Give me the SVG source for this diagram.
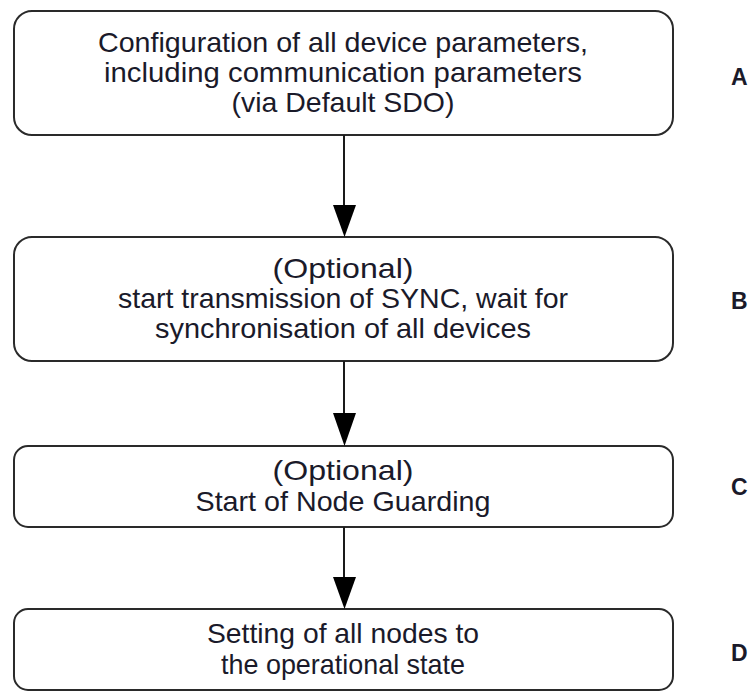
<svg xmlns="http://www.w3.org/2000/svg" width="754" height="696" viewBox="0 0 754 696">
<style>
.box{fill:#fff;stroke:#2a2a2a;stroke-width:2}
.t{font-family:"Liberation Sans",Arial,sans-serif;font-size:28px;fill:#1a1a2a;text-anchor:middle}
.lbl{font-family:"Liberation Sans",Arial,sans-serif;font-size:23px;font-weight:bold;fill:#1a1a2a}
.edge{stroke:#1a1a1a;stroke-width:2;fill:none}
</style>
<rect width="754" height="696" fill="#fff"/>
<g id="nodeA">
<rect class="box" x="14" y="11" width="659" height="124" rx="18"/>
<text class="t" x="343" y="52" textLength="490" lengthAdjust="spacingAndGlyphs">Configuration of all device parameters,</text>
<text class="t" x="343" y="82" textLength="478" lengthAdjust="spacingAndGlyphs">including communication parameters</text>
<text class="t" x="343" y="112" textLength="223" lengthAdjust="spacingAndGlyphs">(via Default SDO)</text>
</g>
<g id="nodeB">
<rect class="box" x="14" y="237" width="659" height="124" rx="18"/>
<text class="t" x="343" y="278" textLength="141" lengthAdjust="spacingAndGlyphs">(Optional)</text>
<text class="t" x="343" y="308" textLength="450" lengthAdjust="spacingAndGlyphs">start transmission of SYNC, wait for</text>
<text class="t" x="343" y="338" textLength="376" lengthAdjust="spacingAndGlyphs">synchronisation of all devices</text>
</g>
<g id="nodeC">
<rect class="box" x="14" y="446" width="659" height="81" rx="14"/>
<text class="t" x="343" y="480" textLength="141" lengthAdjust="spacingAndGlyphs">(Optional)</text>
<text class="t" x="343" y="511" textLength="295" lengthAdjust="spacingAndGlyphs">Start of Node Guarding</text>
</g>
<g id="nodeD">
<rect class="box" x="14" y="609" width="659" height="81" rx="14"/>
<text class="t" x="343" y="643" textLength="272" lengthAdjust="spacingAndGlyphs">Setting of all nodes to</text>
<text class="t" x="343" y="674" textLength="244" lengthAdjust="spacingAndGlyphs">the operational state</text>
</g>
<g id="labels">
<text class="lbl" x="731" y="85">A</text>
<text class="lbl" x="731" y="309">B</text>
<text class="lbl" x="731" y="495">C</text>
<text class="lbl" x="731" y="661">D</text>
</g>
<g id="connectors">
<path class="edge" d="M344,135 V205" />
<path d="M333,205 L356,205 L344.5,237 Z" fill="#000"/>
<path class="edge" d="M344,361 V413" />
<path d="M333,413 L356,413 L344.5,446 Z" fill="#000"/>
<path class="edge" d="M344,527 V577" />
<path d="M333,577 L356,577 L344.5,609 Z" fill="#000"/>
</g>
</svg>
